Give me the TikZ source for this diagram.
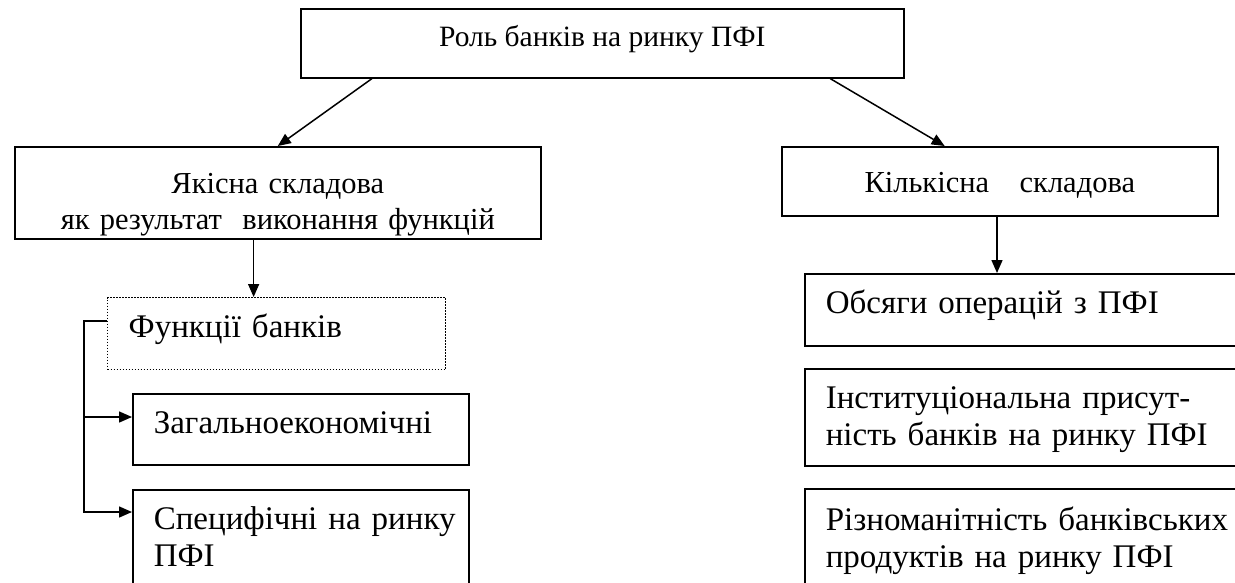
\documentclass[tikz,border=0pt]{standalone}
\usepackage{fontspec}
\setmainfont{Liberation Serif}
\usetikzlibrary{positioning, arrows.meta, calc}

\begin{document}
\begin{tikzpicture}[x=1pt, y=-1pt, >={Triangle[length=13pt, width=11pt]},
    box/.style={draw, line width=1.6pt, anchor=north west, inner ysep=0pt, inner xsep=21pt, text height=40pt},
    dotbox/.style={box, line width=1.4pt, dash pattern=on 1.5pt off 1.5pt},
    topfont/.style={font=\fontsize{29.5}{35}\selectfont},
    midfont/.style={font=\fontsize{30.5}{35.5}\selectfont},
    lowfont/.style={font=\fontsize{33}{37}\selectfont},
    arr/.style={->, line width=1.5pt}]

    \useasboundingbox (0,0) rectangle (1235,582);
    \clip (0,0) rectangle (1235,582);

    % Top box
    \node[box, topfont, minimum width=603pt, text height=38pt, text depth=31pt] (role) at (300,8) {Роль банків на ринку ПФІ};

    % Two components
    \node[box, midfont, text width=484pt, align=center, text height=47pt, text depth=45pt] (qual) at (14,146) {Якісна складова\\як результат~ виконання функцій};
    \node[box, midfont, text width=394pt, align=center, text height=46pt, text depth=23pt] (quant) at (781,146) {Кількісна\hspace{1em}складова};

    % Left column
    \node[dotbox, lowfont, text width=296pt, align=left, text depth=32pt] (func) at (107,297) {Функції банків};
    \node[box, lowfont, text width=294pt, align=left, text depth=31pt] (general) at (132,393) {Загальноекономічні};
    \node[box, lowfont, text width=294pt, align=left, text depth=120pt] (specific) at (132,489) {\mbox{Специфічні на ринку}\\ПФІ};

    % Right column
    \node[box, lowfont, text width=460pt, align=left, text depth=32pt] (volume) at (804,273) {Обсяги операцій з ПФІ};
    \node[box, lowfont, text width=460pt, align=left, text depth=57pt] (inst) at (804,368) {Інституціональна присут-\\ність банків на ринку ПФІ};
    \node[box, lowfont, text width=460pt, align=left, text height=42pt, text depth=120pt] (variety) at (804,488) {Різноманітність банківських\\продуктів на ринку ПФІ};

    % Arrows
    \draw[arr] ($(role.south west)!0.119!(role.south east)$) -- (qual.north);
    \draw[arr] ($(role.south west)!0.877!(role.south east)$) -- ($(quant.north west)!0.374!(quant.north east)$);

    \coordinate (funcin) at ($(func.north west)!0.432!(func.north east)$);
    \draw[arr] (qual.south -| funcin) -- (funcin);
    \coordinate (volin) at ($(volume.north west)+(193,0)$);
    \draw[arr] (quant.south -| volin) -- (volin);

    \coordinate (funcout) at ($(func.north west)+(0,24)$);
    \coordinate (rail) at ($(funcout)+(-23,0)$);
    \coordinate (genin) at ($(general.north west)+(0,24)$);
    \coordinate (specin) at ($(specific.north west)+(0,23)$);
    \draw[arr] (funcout) -- (rail) |- (specin);
    \draw[arr] (genin -| rail) -- (genin);
\end{tikzpicture}
\end{document}
